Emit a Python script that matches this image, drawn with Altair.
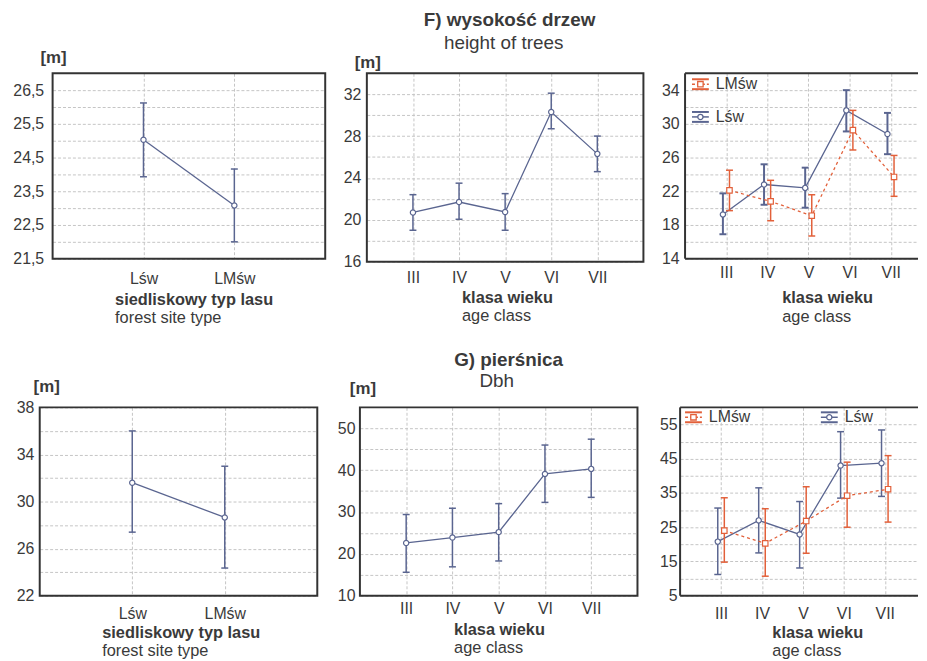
import json
import altair as alt
import pandas as pd

# ---------------- data ----------------
site = ["Lśw", "LMśw"]
age = ["III", "IV", "V", "VI", "VII"]

# F) height of trees
h_site_mean = [25.03, 23.08]
h_site_low = [23.93, 22.0]
h_site_high = [26.12, 24.16]

h_age_mean = [20.7, 21.7, 20.75, 30.3, 26.3]
h_age_low = [19.0, 20.05, 19.0, 28.7, 24.6]
h_age_high = [22.4, 23.5, 22.5, 32.1, 28.0]

h_lsw_mean = [19.25, 22.8, 22.4, 31.6, 28.8]
h_lsw_low = [16.9, 20.4, 20.05, 29.1, 26.4]
h_lsw_high = [21.75, 25.2, 24.8, 34.0, 31.3]
h_lmsw_mean = [22.1, 20.8, 19.1, 29.25, 23.7]
h_lmsw_low = [19.7, 18.5, 16.7, 26.9, 21.4]
h_lmsw_high = [24.5, 23.3, 21.6, 31.6, 26.25]

# G) Dbh
d_site_mean = [31.6, 28.65]
d_site_low = [27.4, 24.35]
d_site_high = [36.0, 33.0]

d_age_mean = [22.6, 23.9, 25.2, 39.1, 40.3]
d_age_low = [15.6, 16.9, 18.3, 32.3, 33.5]
d_age_high = [29.4, 30.9, 32.0, 46.0, 47.4]

d_lsw_mean = [20.8, 27.0, 22.9, 43.0, 43.7]
d_lsw_low = [11.2, 17.5, 13.1, 33.5, 34.0]
d_lsw_high = [30.6, 36.5, 32.5, 52.9, 53.4]
d_lmsw_mean = [24.0, 20.3, 26.8, 34.2, 36.1]
d_lmsw_low = [14.8, 10.7, 17.4, 25.0, 26.5]
d_lmsw_high = [33.6, 30.4, 36.8, 44.0, 45.9]

# axis tick labels (labelled) and extra grid lines
h_site_yticks = [21.5, 22.5, 23.5, 24.5, 25.5, 26.5]
h_site_ygrid = [22, 23, 24, 25, 26]
h_age_yticks = [16, 20, 24, 28, 32]
h_age_ygrid = [18, 22, 26, 30]
h_cls_yticks = [14, 18, 22, 26, 30, 34]
h_cls_ygrid = [16, 20, 24, 28, 32]
d_site_yticks = [22, 26, 30, 34, 38]
d_site_ygrid = [24, 28, 32, 36]
d_age_yticks = [10, 20, 30, 40, 50]
d_age_ygrid = [15, 25, 35, 45]
d_cls_yticks = [5, 15, 25, 35, 45, 55]
d_cls_ygrid = [10, 20, 30, 40, 50]

# ---------------- style ----------------
BLUE = "#5a6590"
ORANGE = "#e2603a"
FRAME = "#333333"
TXT = "#3a3a3a"
GRID = "#c4c4c4"
FONT = "Liberation Sans"
LAB = 16.5
one = pd.DataFrame({"k": [0]})


def txt(s, x, y, size=LAB, bold=False, align="left"):
    return alt.Chart(one).mark_text(
        text=s, align=align, baseline="middle", font=FONT, fontSize=size,
        fontWeight="bold" if bold else "normal", color=TXT
    ).encode(x=alt.value(x), y=alt.value(y))


def hrule(x1, x2, y, color, w=2.0, dash=None):
    kw = dict(color=color, strokeWidth=w)
    if dash:
        kw["strokeDash"] = dash
    return alt.Chart(one).mark_rule(**kw).encode(
        x=alt.value(x1), x2=alt.value(x2), y=alt.value(y))


def vrule(x, y1, y2, color, w=2.0):
    return alt.Chart(one).mark_rule(color=color, strokeWidth=w).encode(
        x=alt.value(x), y=alt.value(y1), y2=alt.value(y2))


def marker(x, y, color, shape, size):
    return alt.Chart(one).mark_point(
        shape=shape, filled=True, fill="white", stroke=color, strokeWidth=1.3,
        size=size, opacity=1
    ).encode(x=alt.value(x), y=alt.value(y))


def legend_item(cx, cy, label, color, shape, size, dash=None):
    return [
        hrule(cx - 8.5, cx + 8.5, cy - 5, color, 2),
        hrule(cx - 8.5, cx + 8.5, cy + 5, color, 2),
        hrule(cx - 8.5, cx + 8.5, cy, color, 1.5, dash),
        marker(cx, cy, color, shape, size),
        txt(label, cx + 15.5, cy, 16),
    ]


def group(cats, mean, low, high, color, shape, offset=0.0, dash=None,
          lw=1.3, bw=1.5, msize=28):
    return dict(
        df=pd.DataFrame({
            "x": [i + 1 + offset for i in range(len(cats))],
            "mean": mean, "low": low, "high": high,
        }),
        color=color, shape=shape, dash=dash, lw=lw, bw=bw, msize=msize,
    )


def panel(cats, groups, xmax, ydom, yticks, ygrid, w, h, xpad, ypad,
          comma=False, open_right=False, deco=()):
    n = len(cats)
    xs = alt.Scale(domain=[0, xmax], nice=False, zero=False)
    ys = alt.Scale(domain=ydom, nice=False, zero=False)
    lab_arr = json.dumps([""] + cats, ensure_ascii=False)
    xaxis = alt.Axis(
        values=list(range(1, n + 1)), labelExpr=f"{lab_arr}[datum.value]",
        title=None, grid=True, gridColor=GRID, gridDash=[3, 2], gridWidth=1,
        ticks=False, domain=False,
        labelFont=FONT, labelFontSize=16, labelColor=TXT, labelPadding=xpad,
        labelAngle=0, labelOverlap=False, labelFlush=False,
    )
    fmt = ("replace(format(datum.value, '.1f'), '.', ',')" if comma
           else "format(datum.value, 'd')")
    yvals = sorted(set(yticks) | set(ygrid))
    yaxis = alt.Axis(
        values=yvals,
        labelExpr=f"indexof({json.dumps(yticks)}, datum.value) >= 0 ? {fmt} : ''",
        title=None, grid=True, gridColor=GRID, gridDash=[3, 2], gridWidth=1,
        ticks=False, domain=False,
        labelFont=FONT, labelFontSize=16, labelColor=TXT, labelPadding=ypad,
        labelOverlap=False, labelFlush=False,
    )
    X = alt.X("x:Q", scale=xs, axis=xaxis)

    def Y(f):
        return alt.Y(f"{f}:Q", scale=ys, axis=yaxis)

    layers = []
    for g in groups:
        base = alt.Chart(g["df"])
        lkw = dict(color=g["color"], strokeWidth=g["lw"])
        if g["dash"]:
            lkw["strokeDash"] = g["dash"]
        layers.append(base.mark_line(**lkw).encode(x=X, y=Y("mean")))
        layers.append(base.mark_rule(color=g["color"], strokeWidth=g["bw"]).encode(
            x=X, y=Y("low"), y2="high:Q"))
        for f in ("low", "high"):
            layers.append(base.mark_tick(
                orient="horizontal", color=g["color"], thickness=g["bw"],
                size=7, opacity=1).encode(x=X, y=Y(f)))
    for g in groups:
        layers.append(alt.Chart(g["df"]).mark_point(
            shape=g["shape"], filled=True, fill="white", stroke=g["color"],
            strokeWidth=1.2, size=g["msize"], opacity=1
        ).encode(x=X, y=Y("mean")))
    layers += list(deco)
    # frame drawn above the grid
    if open_right:
        layers += [hrule(0, w, 0, FRAME, 2), hrule(0, w, h, FRAME, 2),
                   vrule(0, 0, h, FRAME, 2)]
    else:
        layers.append(alt.Chart(one).mark_rect(
            fill="transparent", stroke=FRAME, strokeWidth=2
        ).encode(x=alt.value(0), x2=alt.value(w), y=alt.value(0), y2=alt.value(h)))
    return alt.layer(*layers).properties(width=w, height=h)


# ---------------- panels ----------------
p1 = panel(
    site, [group(site, h_site_mean, h_site_low, h_site_high, BLUE, "circle")],
    3, [21.5, 27], h_site_yticks, h_site_ygrid, 275, 187, 12, 9, comma=True,
    deco=[txt("[m]", 1, -15, 17, True, "center"),
          txt("siedliskowy typ lasu", 63, 229, LAB, True),
          txt("forest site type", 63, 247, LAB)])

p2 = panel(
    age, [group(age, h_age_mean, h_age_low, h_age_high, BLUE, "circle")],
    6, [16, 34], h_age_yticks, h_age_ygrid, 279, 190, 8, 6,
    deco=[txt("[m]", 1, -10, 17, True, "center"),
          txt("F) wysokość drzew", 144, -54, 19, True, "center"),
          txt("height of trees", 138, -31, 19, False, "center"),
          txt("klasa wieku", 96, 227, LAB, True),
          txt("age class", 96, 245, LAB)])

p3 = panel(
    age,
    [group(age, h_lsw_mean, h_lsw_low, h_lsw_high, BLUE, "circle", -0.08, bw=2),
     group(age, h_lmsw_mean, h_lmsw_low, h_lmsw_high, ORANGE, "square", 0.08,
           dash=[3, 3], msize=30)],
    235 / 41.5, [14, 36], h_cls_yticks, h_cls_ygrid, 235, 187, 6, 6,
    open_right=True,
    deco=[txt("klasa wieku", 98, 227, LAB, True),
          txt("age class", 98, 246, LAB)]
    + legend_item(15.5, 11, "LMśw", ORANGE, "square", 30, [3, 2])
    + legend_item(15.5, 44, "Lśw", BLUE, "circle", 28))

p4 = panel(
    site, [group(site, d_site_mean, d_site_low, d_site_high, BLUE, "circle")],
    3, [22, 38], d_site_yticks, d_site_ygrid, 280, 190, 10, 6,
    deco=[txt("[m]", 7, -20, 17, True, "center"),
          txt("siedliskowy typ lasu", 63, 228, LAB, True),
          txt("forest site type", 63, 246, LAB)])

p5 = panel(
    age, [group(age, d_age_mean, d_age_low, d_age_high, BLUE, "circle")],
    6, [10, 55], d_age_yticks, d_age_ygrid, 280, 190, 5, 5,
    deco=[txt("[m]", 3, -18, 17, True, "center"),
          txt("G) pierśnica", 150, -48, 19, True, "center"),
          txt("Dbh", 138, -27, 19, False, "center"),
          txt("klasa wieku", 95, 225, LAB, True),
          txt("age class", 95, 243, LAB)])

p6 = panel(
    age,
    [group(age, d_lsw_mean, d_lsw_low, d_lsw_high, BLUE, "circle", -0.08, bw=1.5),
     group(age, d_lmsw_mean, d_lmsw_low, d_lmsw_high, ORANGE, "square", 0.08,
           dash=[3, 3], msize=30)],
    240 / 41.3, [5, 60], d_cls_yticks, d_cls_ygrid, 240, 190, 10, 3,
    open_right=True,
    deco=[txt("klasa wieku", 93, 228, LAB, True),
          txt("age class", 93, 246, LAB)]
    + legend_item(13.5, 10, "LMśw", ORANGE, "square", 30, [3, 2])
    + legend_item(150.5, 10, "Lśw", BLUE, "circle", 28))

spacer = alt.Chart(one).mark_point(opacity=0).encode(
    x=alt.value(0), y=alt.value(0)
).properties(width=13, height=10)

row1 = alt.hconcat(
    spacer, alt.hconcat(p1, p2, p3, spacing=42, bounds="flush"),
    spacing=0, bounds="flush")
row2 = alt.hconcat(p4, p5, p6, spacing=43, bounds="flush")

# flush layout counts the nested row as zero height, so spacing = row height + gap
chart = alt.vconcat(row1, row2, spacing=337, bounds="flush").properties(
    padding={"left": 4, "top": 0, "right": 0, "bottom": 0}
).configure_view(stroke="transparent", strokeWidth=0)

chart.save("out.html", embed_options={"renderer": "svg", "actions": False})
